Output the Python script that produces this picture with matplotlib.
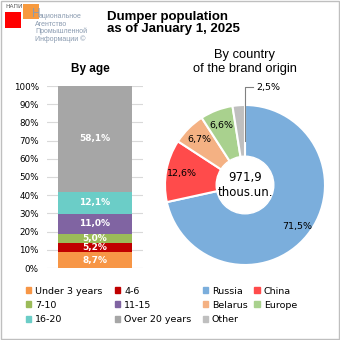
import numpy as np
import matplotlib.pyplot as plt
from matplotlib.patches import Rectangle, Patch

# --- данные ---
age_labels = ["Under 3 years", "4-6", "7-10", "11-15", "16-20", "Over 20 years"]
age_share = [8.7, 5.2, 5.0, 11.0, 12.1, 58.1]
age_colors = ["#F79646", "#C00000", "#9BBB59", "#8064A2", "#6BCDC7", "#A6A6A6"]

country_labels = ["Russia", "China", "Belarus", "Europe", "Other"]
country_share = [71.5, 12.6, 6.7, 6.6, 2.5]
country_colors = ["#7BAEDC", "#FF4B4B", "#F4B183", "#A9D18E", "#BFBFBF"]

total_text = "971,9\nthous.un."
yticks = np.arange(0, 101, 10)

W = H = 340
fig = plt.figure(figsize=(3.4, 3.4), dpi=100)


def px(x0, y0, w, h):
    # прямоугольник в пикселях (от верхнего левого угла) -> доли фигуры
    return [x0 / W, 1 - (y0 + h) / H, w / W, h / H]


def fmt(v):
    return f"{v:.1f}%".replace(".", ",")


# рамка
fig.patches.append(Rectangle((0.003, 0.003), 0.994, 0.994, transform=fig.transFigure,
                             fill=False, edgecolor="#BFBFBF", linewidth=1))

# логотип
fig.patches.append(Rectangle((5 / W, 1 - 28 / H), 16 / W, 16 / H, transform=fig.transFigure,
                             facecolor="#FF0000", edgecolor="none"))
fig.patches.append(Rectangle((23 / W, 1 - 19 / H), 16 / W, 15 / H, transform=fig.transFigure,
                             facecolor="#F79A3E", edgecolor="none"))
fig.text(5 / W, 1 - 7 / H, "НАПИ", fontsize=4.2, color="#555555", va="center",
         family="DejaVu Sans")
fig.text(32 / W, 1 - 14 / H, "Н", fontsize=8.5, color="#8A9BB0", va="center",
         family="Liberation Sans")
fig.text(39 / W, 1 - 16 / H, "ациональное", fontsize=5, color="#8A9BB0",
         va="center", ha="left", family="Liberation Sans")
fig.text(35 / W, 1 - 32 / H, "Агентство\nПромышленной\nИнформации ©",
         fontsize=5, color="#8A9BB0", va="center", ha="left", linespacing=1.0,
         family="Liberation Sans")

# заголовок
fig.text(107 / W, 1 - 23 / H, "Dumper population\nas of January 1, 2025",
         fontsize=9.5, fontweight="bold", va="center", ha="left",
         family="Liberation Sans", linespacing=1.1)

# --- столбец по возрасту ---
fig.text(90 / W, 1 - 69 / H, "By age", fontsize=8.5, fontweight="bold",
         ha="center", va="center", family="Liberation Sans")
fig.text(245 / W, 1 - 62 / H, "By country\nof the brand origin", fontsize=9.3,
         ha="center", va="center", family="Liberation Sans", linespacing=1.15)

ax = fig.add_axes(px(47, 86, 96, 182))
bottom = 0
for v, c in zip(age_share, age_colors):
    ax.bar(0, v, bottom=bottom, width=0.77, color=c, zorder=2)
    ax.text(0, bottom + v / 2, fmt(v), ha="center", va="center", color="white",
            fontsize=6.5, fontweight="bold", family="DejaVu Sans", zorder=3)
    bottom += v
ax.set_xlim(-0.5, 0.5)
ax.set_ylim(0, 100)
ax.set_yticks(yticks)
ax.set_yticklabels([f"{t}%" for t in yticks], fontsize=6.3, family="DejaVu Sans")
ax.set_xticks([])
ax.yaxis.grid(True, color="#D9D9D9", linewidth=0.8, zorder=0)
ax.tick_params(axis="y", length=0, pad=6)
for s in ax.spines.values():
    s.set_visible(False)

# --- кольцевая диаграмма по странам ---
R = 80
axp = fig.add_axes(px(245 - 95, 185 - 95, 190, 190))
wedges, _ = axp.pie(country_share, colors=country_colors, startangle=90,
                    counterclock=False, radius=1,
                    wedgeprops=dict(edgecolor="white", linewidth=1.5))
lim = 95 / R
axp.set_xlim(-lim, lim)
axp.set_ylim(-lim, lim)
axp.set_aspect("equal")
axp.axis("off")
axp.add_patch(plt.Circle((0, 0), 0.36, color="white", zorder=3))
axp.text(0, 0, total_text, ha="center", va="center", fontsize=8.5, zorder=4,
         family="DejaVu Sans", linespacing=1.25)

start = 0
for w, v in zip(wedges, country_share):
    mid = np.deg2rad(90 - (start + v / 2) * 3.6)
    start += v
    if v < 5:
        x0, y0 = 0.75 * np.cos(mid), 0.75 * np.sin(mid)
        yl = 1.22
        axp.plot([x0 + 0.06, x0 + 0.06, x0 + 0.16], [0.55, yl, yl], color="#808080",
                 linewidth=0.8, zorder=4, clip_on=False)
        axp.text(x0 + 0.2, yl, fmt(v), ha="left", va="center", fontsize=6.8,
                 family="DejaVu Sans")
    else:
        r = 0.83 if v > 50 else 0.8
        axp.text(r * np.cos(mid), r * np.sin(mid), fmt(v), ha="center", va="center",
                 fontsize=6.8, family="DejaVu Sans", zorder=4)

# --- легенды ---
age_handles = [Patch(color=c, label=l) for c, l in zip(age_colors, age_labels)]
order = [0, 2, 4, 1, 3, 5]
fig.legend([age_handles[i] for i in order], [age_labels[i] for i in order],
           ncol=2, loc="upper left", bbox_to_anchor=(17 / W, 1 - 278 / H),
           frameon=False, handlelength=0.6, handleheight=0.6,
           handletextpad=0.4, columnspacing=1.3, labelspacing=0.55,
           prop=dict(family="DejaVu Sans", size=6.8))

c_handles = [Patch(color=c, label=l) for c, l in zip(country_colors, country_labels)]
order = [0, 2, 4, 1, 3]
fig.legend([c_handles[i] for i in order], [country_labels[i] for i in order],
           ncol=2, loc="upper left", bbox_to_anchor=(194 / W, 1 - 278 / H),
           frameon=False, handlelength=0.6, handleheight=0.6,
           handletextpad=0.4, columnspacing=0.7, labelspacing=0.55,
           prop=dict(family="DejaVu Sans", size=6.8))

fig.savefig("out.png", dpi=100)
